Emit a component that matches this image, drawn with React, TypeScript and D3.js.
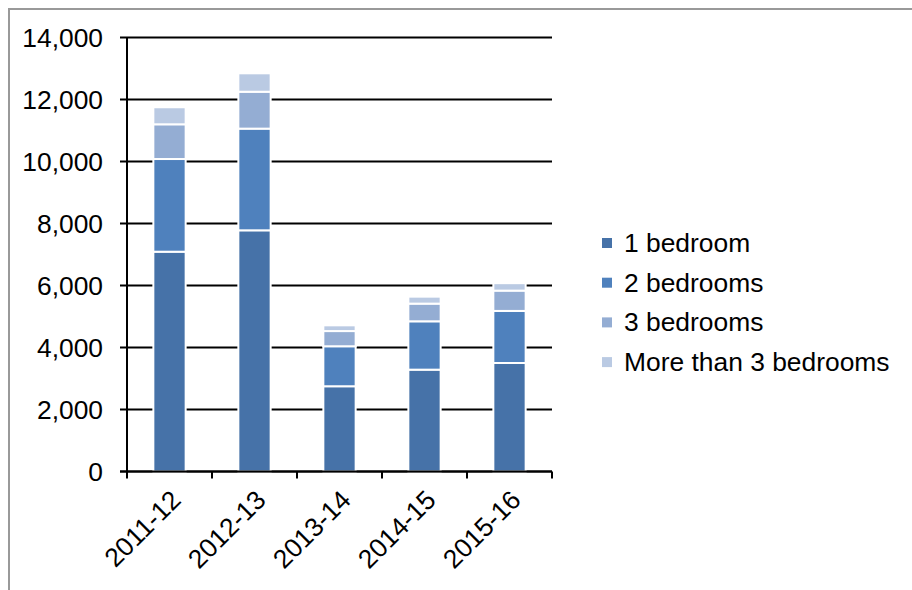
import React from "react";
import * as d3 from "d3";

const categories = ["2011-12", "2012-13", "2013-14", "2014-15", "2015-16"];
const seriesNames = ["1 bedroom", "2 bedrooms", "3 bedrooms", "More than 3 bedrooms"];
const oneBed = [7090, 7780, 2750, 3285, 3500];
const twoBed = [2990, 3280, 1290, 1560, 1680];
const threeBed = [1120, 1190, 490, 570, 655];
const moreBed = [550, 595, 185, 225, 240];
const yTicks = [0, 2000, 4000, 6000, 8000, 10000, 12000, 14000];
const colors = ["#4672A8", "#4F81BD", "#94ADD3", "#BACAE3"];

const W = 912;
const H = 590;
const M = { left: 127, right: 552, top: 37.5, bottom: 471.5 };
const FONT = "'Liberation Sans', Arial, sans-serif";
const FS = 26.4;

export default function App() {
  const rows = categories.map((c, i) => ({
    cat: c,
    s0: oneBed[i],
    s1: twoBed[i],
    s2: threeBed[i],
    s3: moreBed[i],
  }));
  const keys = ["s0", "s1", "s2", "s3"];
  const stacked = d3.stack<any>().keys(keys)(rows);

  const x = d3.scaleBand<string>().domain(categories).range([M.left, M.right]).paddingInner(0.62).paddingOuter(0.31);
  const xb = d3.scaleBand<string>().domain(categories).range([M.left, M.right]);
  const y = d3.scaleLinear().domain([0, 14000]).range([M.bottom, M.top]);
  const fmt = d3.format(",");

  return (
    <svg width={W} height={H} style={{ position: "absolute", left: 0, top: 0, display: "block" }}>
      <rect x={0} y={0} width={W} height={H} fill="#fff" />
      <rect x={9} y={9} width={W + 20} height={H + 20} fill="none" stroke="#999" strokeWidth={2} />
      {yTicks.map((t) => (
        <line key={"g" + t} x1={M.left - 7} x2={M.right} y1={y(t)} y2={y(t)} stroke="#000" strokeWidth={2} />
      ))}
      {yTicks.map((t) => (
        <text key={"yl" + t} x={103} y={y(t)} textAnchor="end" dominantBaseline="central" fontFamily={FONT} fontSize={FS} fill="#000">
          {fmt(t)}
        </text>
      ))}
      {stacked.map((layer, li) => (
        <g key={"l" + li}>
          {layer.map((d, i) => (
            <rect
              key={i}
              x={x(categories[i])}
              width={x.bandwidth()}
              y={y(d[1])}
              height={y(d[0]) - y(d[1])}
              fill={colors[li]}
              stroke="#fff"
              strokeWidth={2}
            />
          ))}
        </g>
      ))}
      <line x1={M.left} x2={M.left} y1={M.top} y2={M.bottom + 7} stroke="#000" strokeWidth={2} />
      <line x1={M.left - 7} x2={M.right} y1={M.bottom} y2={M.bottom} stroke="#000" strokeWidth={2} />
      {categories.map((c) => (
        <line key={"t" + c} x1={(xb(c) as number) + xb.bandwidth()} x2={(xb(c) as number) + xb.bandwidth()} y1={M.bottom} y2={M.bottom + 7} stroke="#000" strokeWidth={2} />
      ))}
      {categories.map((c) => {
        const cx = (xb(c) as number) + xb.bandwidth() / 2 + 13;
        const cy = M.bottom + 30;
        return (
          <text key={"xl" + c} x={cx} y={cy} transform={`rotate(-45 ${cx} ${cy})`} textAnchor="end" fontFamily={FONT} fontSize={FS} fill="#000">
            {c}
          </text>
        );
      })}
      {seriesNames.map((s, i) => (
        <g key={"lg" + i} transform={`translate(602, ${243 + i * 39.7})`}>
          <rect x={0} y={-5} width={10} height={10} fill={colors[i]} />
          <text x={22} y={0} dominantBaseline="central" fontFamily={FONT} fontSize={FS} fill="#000">
            {s}
          </text>
        </g>
      ))}
    </svg>
  );
}
